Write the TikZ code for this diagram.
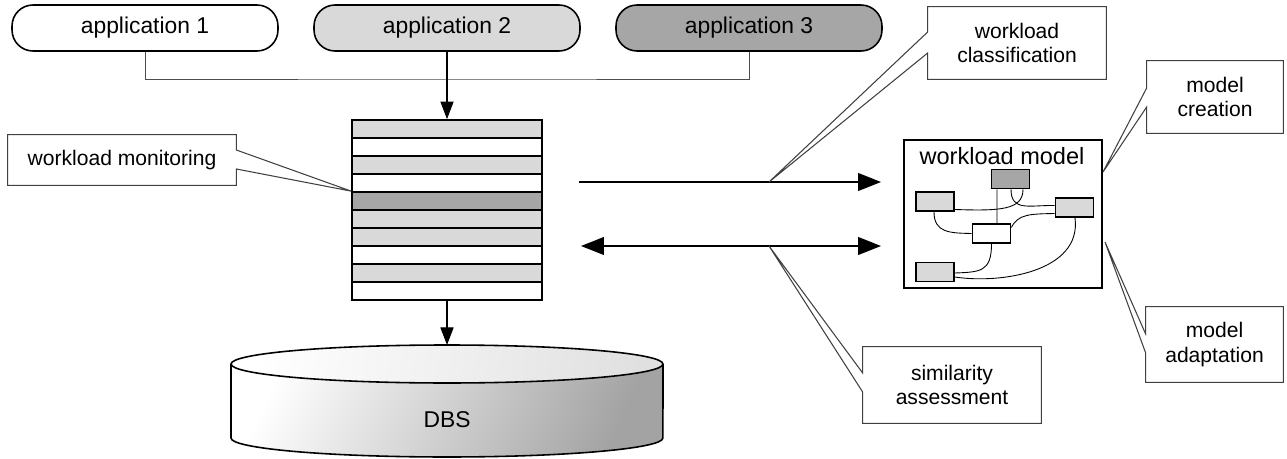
\documentclass[tikz,border=0pt]{standalone}
\usepackage{fontspec}
\setmainfont{Liberation Sans}
\usetikzlibrary{arrows.meta,calc}
\definecolor{lightg}{RGB}{217,217,217}
\definecolor{darkg}{RGB}{166,166,166}
\begin{document}
\begin{tikzpicture}[x=0.02cm,y=-0.02cm,
 app/.style={draw, line width=0.9pt, rounded corners=0.42cm, minimum width=5.32cm, minimum height=0.92cm, inner sep=0pt, font=\fontsize{13}{15}\selectfont},
 rowbox/.style={draw, line width=1pt, minimum width=3.8cm, minimum height=0.36cm, inner sep=0pt},
 mbox/.style={draw, line width=1pt, minimum width=0.76cm, minimum height=0.38cm, inner sep=0pt},
 ctext/.style={align=center, inner sep=0pt, font=\fontsize{12}{14}\selectfont},
 callout/.style={draw=black!75, line width=0.6pt},
 bigarrow/.style={line width=1.2pt, -{Triangle[length=13pt,width=10pt]}},
 smallarrow/.style={line width=0.6pt, -{Triangle[length=10pt,width=7.5pt]}},
 thinline/.style={line width=0.5pt},
]
\useasboundingbox (0,0) rectangle (1287,459);

% applications
\node[app, fill=white] (app1) at (145,28) {application 1};
\node[app, fill=lightg] (app2) at (447,28) {application 2};
\node[app, fill=darkg] (app3) at (749,28) {application 3};

% stack
\foreach \i/\c in {1/lightg,2/white,3/lightg,4/white,5/darkg,6/lightg,7/lightg,8/white,9/lightg,10/white}
  \node[rowbox, fill=\c] (s\i) at (447,{111+18*\i}) {};

\coordinate (bj) at (447,79);
\draw[line width=0.5pt, black!70] (app1.south) |- (bj) -| (app3.south);
\draw[smallarrow] (app2.south) -- (s1.north);

% DBS cylinder
\shade[left color=white, middle color=white!95!black, right color=black!36, shading angle=65]
  (231,364) -- (231,438) arc[start angle=180, end angle=360, x radius=4.32cm, y radius=0.38cm]
  -- (663,364) arc[start angle=0, end angle=180, x radius=4.32cm, y radius=0.38cm] -- cycle;
\draw[line width=0.9pt]
  (231,364) -- (231,438) arc[start angle=180, end angle=360, x radius=4.32cm, y radius=0.38cm]
  -- (663,364);
\shade[draw, line width=0.9pt, left color=white, middle color=white, right color=black!12, shading angle=80]
  (447,364) ellipse[x radius=4.32cm, y radius=0.38cm];
\node[font=\fontsize{13}{15}\selectfont] (dbs) at (447,420) {DBS};
\coordinate (dbstop) at (447,345);
\draw[smallarrow] (s10.south) -- (dbstop);

% arrows
\coordinate (a1s) at (579,182);
\coordinate (a1e) at (881,182);
\coordinate (a2s) at (581,246);
\coordinate (a2e) at (881,246);
\draw[bigarrow] (a1s) -- (a1e);
\draw[line width=1.2pt, {Triangle[length=13pt,width=10pt]}-{Triangle[length=13pt,width=10pt]}] (a2s) -- (a2e);

% workload model
\node[draw, line width=1.2pt, minimum width=3.96cm, minimum height=2.96cm, inner sep=0pt] (wm) at (1003,214) {};
\node[font=\fontsize{13.4}{16}\selectfont, inner sep=0pt] (wmt) at (1002,156) {workload model};
\node[mbox, fill=darkg] (mdark) at (1010.5,179) {};
\node[mbox, fill=lightg] (mleft) at (935,201.5) {};
\node[mbox, fill=lightg] (mright) at (1074.5,207.5) {};
\node[mbox, fill=white] (mcenter) at (991.5,233.5) {};
\node[mbox, fill=lightg] (mbl) at (935,272) {};
\begin{scope}[thinline]
\draw ($(mdark.south)+(-13.5,0)$) -- ($(mcenter.north)+(5.5,0)$);
\draw ($(mleft.east)+(0,8)$) .. controls (1000,211) and (1023,210) .. ($(mdark.south)+(12.5,0)$);
\draw ($(mdark.south)+(0.5,0)$) .. controls (1011,212) and (1030,205) .. ($(mright.west)+(0,-2)$);
\draw ($(mcenter.east)+(0,-6)$) .. controls (1018,214) and (1030,214) .. ($(mright.west)+(0,6)$);
\draw ($(mleft.south)+(-1,0)$) .. controls (934,233) and (950,233) .. (mcenter.west);
\draw (mcenter.south) .. controls (991.5,272) and (980,272) .. ($(mbl.east)+(0,1)$);
\draw ($(mright.south)+(0.5,0)$) .. controls (1082,272) and (1000,284) .. ($(mbl.east)+(0,5)$);
\end{scope}

% callouts
\node[ctext, minimum width=4.56cm, minimum height=1cm] (mon) at (122,160) {workload monitoring};
\draw[callout] (mon.north west) -- (mon.north east) -- ($(mon.east)+(0,-10)$) -- (s5.north west)
  -- ($(mon.east)+(0,9)$) -- (mon.south east) -- (mon.south west) -- cycle;

\node[ctext, minimum width=3.56cm, minimum height=1.44cm] (cls) at (1017,43) {workload\\classification};
\coordinate (clstip) at (769,182);
\draw[callout] (cls.north west) -- (cls.north east) -- (cls.south east) -- (cls.south west)
  -- ($(cls.west)+(0,10)$) -- (clstip) -- ($(cls.west)+(0,-11)$) -- cycle;

\node[ctext, minimum width=2.72cm, minimum height=1.44cm] (mcr) at (1215,97) {model\\creation};
\coordinate (mcrtip) at (1103,172);
\draw[callout] (mcr.north west) -- (mcr.north east) -- (mcr.south east) -- (mcr.south west)
  -- ($(mcr.west)+(0,10)$) -- (mcrtip) -- ($(mcr.west)+(0,-9)$) -- cycle;

\node[ctext, minimum width=2.74cm, minimum height=1.5cm] (mad) at (1214.5,344.5) {model\\adaptation};
\coordinate (madtip) at (1105,242);
\draw[callout] (mad.north west) -- (mad.north east) -- (mad.south east) -- (mad.south west)
  -- ($(mad.west)+(0,8.5)$) -- (madtip) -- ($(mad.west)+(0,-10.5)$) -- cycle;

\node[ctext, minimum width=3.56cm, minimum height=1.52cm] (sim) at (952,385) {similarity\\assessment};
\coordinate (simtip) at (769,246);
\draw[callout] (sim.north west) -- (sim.north east) -- (sim.south east) -- (sim.south west)
  -- ($(sim.west)+(0,7)$) -- (simtip) -- ($(sim.west)+(0,-12)$) -- cycle;
\end{tikzpicture}
\end{document}
